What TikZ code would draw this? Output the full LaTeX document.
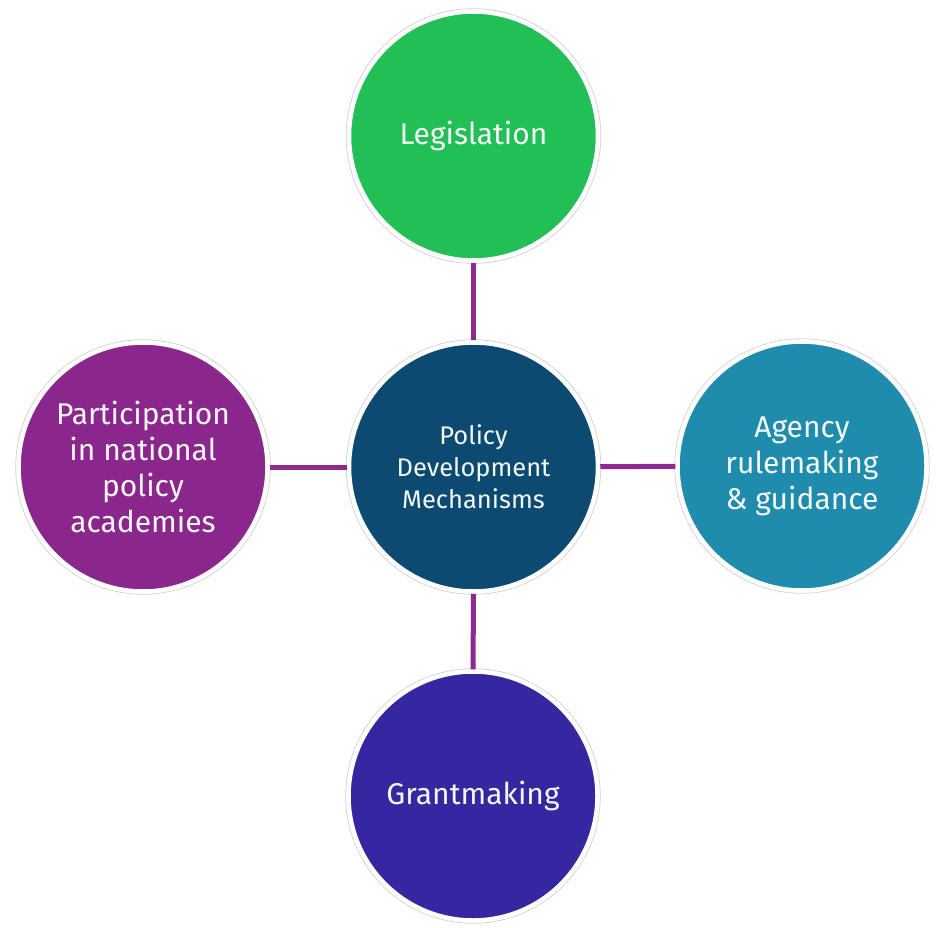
\documentclass[tikz,border=0pt]{standalone}
\usepackage{fontspec}
\setmainfont{Fira Sans}
\definecolor{cgreen}{HTML}{22BF57}
\definecolor{ccenter}{HTML}{0D4A71}
\definecolor{cteal}{HTML}{1F8CAE}
\definecolor{cpurple}{HTML}{8B278C}
\definecolor{cindigo}{HTML}{35279F}
\definecolor{cline}{HTML}{8E2A8F}
\definecolor{ctext}{HTML}{F2F7F4}
\begin{document}
\begin{tikzpicture}[x=1pt,y=-1pt,
  bubble/.style={circle, minimum size=249pt, inner sep=0pt, draw=white, line width=4.5pt,
    text=ctext, align=center, font=\fontsize{30}{36}\selectfont},
  ring/.style={draw=black!18, line width=0.7pt},
  link/.style={draw=cline, line width=5pt}]
\useasboundingbox (0,0) rectangle (942,928);
\fill[white] (0,0) rectangle (942,928);
\node[bubble, fill=ccenter, font=\fontsize{25.5}{32}\selectfont] (c) at (473.5,467) {Policy\\Development\\Mechanisms};
\node[bubble, fill=cgreen] (t) at (473.5,136) {\raisebox{-2pt}{Legislation}};
\node[bubble, fill=cpurple] (l) at (143,467) {Participation\\in national\\policy\\academies};
\node[bubble, fill=cteal] (r) at (802,466) {Agency\\rulemaking\\\& guidance};
\node[bubble, fill=cindigo] (b) at (473,796) {\raisebox{-2pt}{Grantmaking}};
\foreach \n in {c,t,l,r,b} {\draw[ring] (\n.center) circle (127.3);}
\draw[link] (t) -- (c);
\draw[link] (l) -- (c);
\draw[link] (c) -- (r);
\draw[link] (c) -- (b);
\end{tikzpicture}
\end{document}
